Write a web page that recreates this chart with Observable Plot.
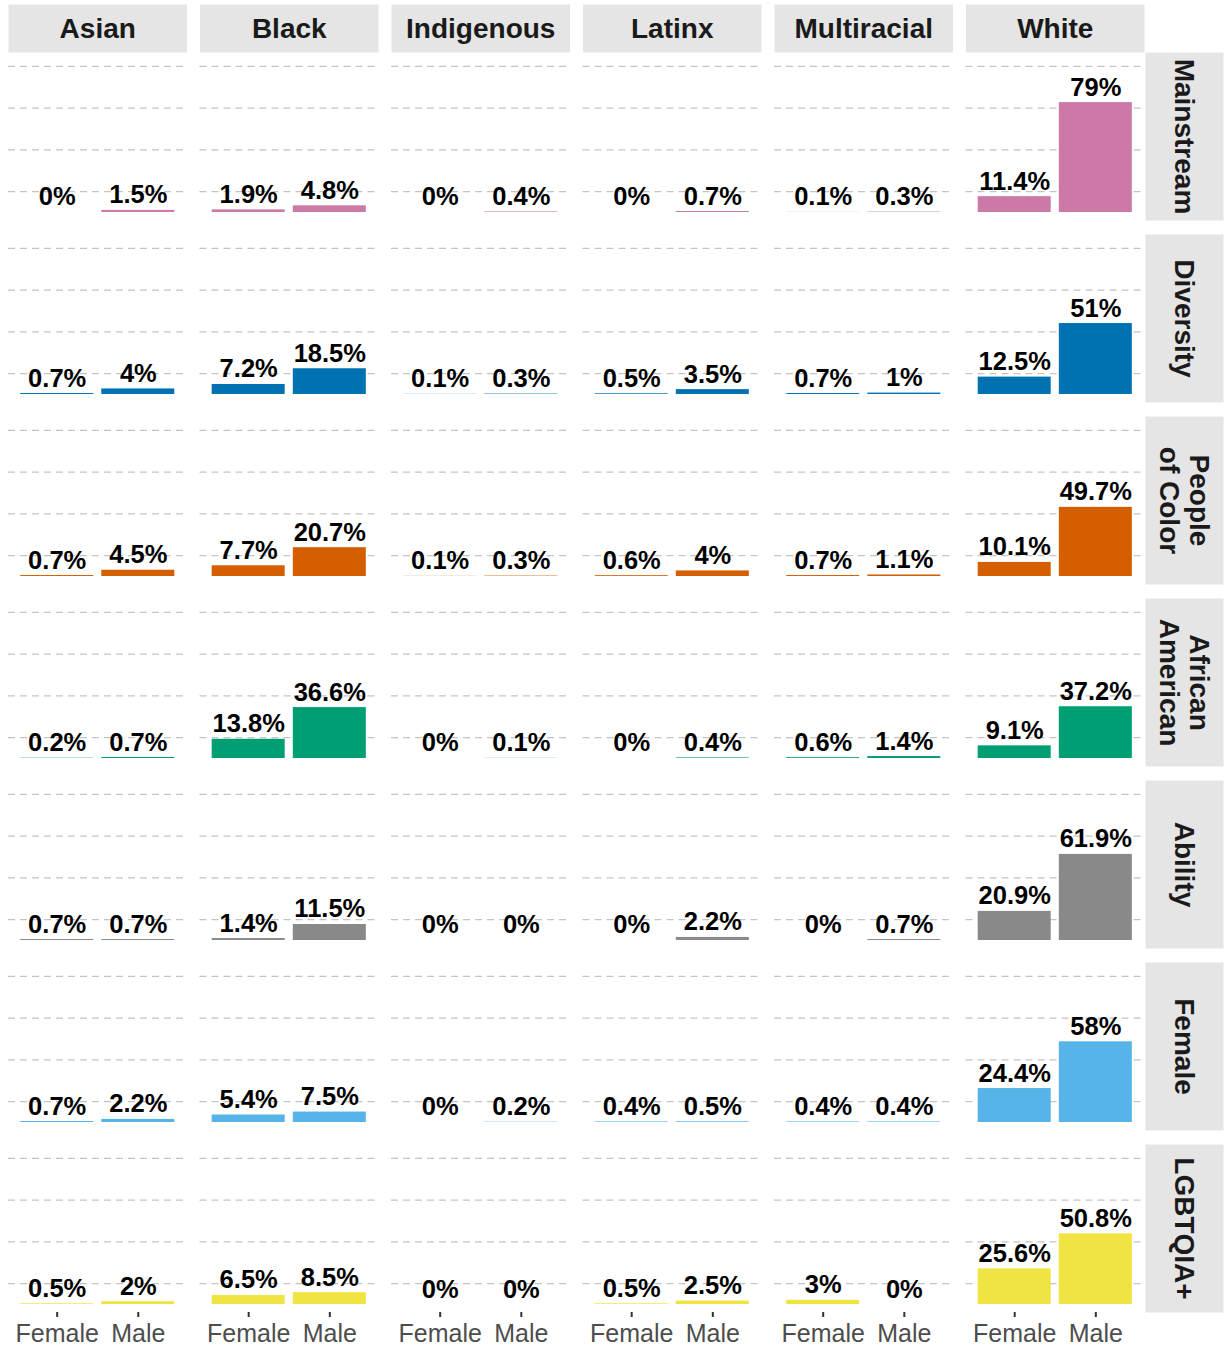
<!DOCTYPE html>
<html><head><meta charset="utf-8">
<script src="https://cdn.jsdelivr.net/npm/d3@7"></script>
<script src="https://cdn.jsdelivr.net/npm/@observablehq/plot@0.6"></script>
<style>body{margin:0;background:#fff;} #chart svg{display:block}</style>
</head><body><div id="chart"></div>
<script>
// ---- data ----
const races = ["Asian", "Black", "Indigenous", "Latinx", "Multiracial", "White"];
const categories = ["Mainstream", "Diversity", "People of Color", "African American", "Ability", "Female", "LGBTQIA+"];
const categoryLabels = ["Mainstream", "Diversity", "People\nof Color", "African\nAmerican", "Ability", "Female", "LGBTQIA+"];
const genders = ["Female", "Male"];
const categoryColors = ["#CC79A7", "#0072B2", "#D55E00", "#009E73", "#898989", "#56B4E9", "#F0E442"];
// each: per race (Asian..White) -> [Female %, Male %]
const mainstream      = [[0, 1.5], [1.9, 4.8], [0, 0.4], [0, 0.7], [0.1, 0.3], [11.4, 79]];
const diversity       = [[0.7, 4], [7.2, 18.5], [0.1, 0.3], [0.5, 3.5], [0.7, 1], [12.5, 51]];
const peopleOfColor   = [[0.7, 4.5], [7.7, 20.7], [0.1, 0.3], [0.6, 4], [0.7, 1.1], [10.1, 49.7]];
const africanAmerican = [[0.2, 0.7], [13.8, 36.6], [0, 0.1], [0, 0.4], [0.6, 1.4], [9.1, 37.2]];
const ability         = [[0.7, 0.7], [1.4, 11.5], [0, 0], [0, 2.2], [0, 0.7], [20.9, 61.9]];
const female          = [[0.7, 2.2], [5.4, 7.5], [0, 0.2], [0.4, 0.5], [0.4, 0.4], [24.4, 58]];
const lgbtqia         = [[0.5, 2], [6.5, 8.5], [0, 0], [0.5, 2.5], [3, 0], [25.6, 50.8]];
const seriesByCategory = [mainstream, diversity, peopleOfColor, africanAmerican, ability, female, lgbtqia];
const gridTicks = [15, 45, 75, 105];

const rows = [];
categories.forEach((cat, ci) => {
  races.forEach((race, ri) => {
    genders.forEach((g, gi) => {
      rows.push({category: cat, race, gender: g, value: seriesByCategory[ci][ri][gi]});
    });
  });
});

// ---- layout ----
const W = 1225, H = 1349;
const mt = 52, mb = 37, ml = 8, mr = 81;
const fxPad = 0.068, fyPad = 0.077;
const panelH = (H - mt - mb) / (categories.length - fyPad) * (1 - fyPad);
const panelW = (W - ml - mr) / (races.length - fxPad) * (1 - fxPad);
const stripH = 48, stripW = 78;
const font = "'Liberation Sans', Arial, Helvetica, sans-serif";

const chart = Plot.plot({
  width: W, height: H,
  marginTop: mt, marginBottom: mb, marginLeft: ml, marginRight: mr,
  style: {fontFamily: font, background: "#ffffff", color: "#1a1a1a", overflow: "visible"},
  fx: {domain: races, paddingInner: fxPad, paddingOuter: 0, round: false, axis: null, label: null},
  fy: {domain: categories, paddingInner: fyPad, paddingOuter: 0, round: false, axis: null, label: null},
  x: {domain: genders, type: "band", paddingInner: 0.1, paddingOuter: 0.15, round: false, axis: null, label: null},
  y: {domain: [-5.75, 115], axis: null, label: null},
  color: {domain: categories, range: categoryColors},
  marks: [
    Plot.frame({facetAnchor: "top", fill: "#e5e5e5", stroke: null, insetTop: -stripH, insetBottom: panelH}),
    Plot.frame({facetAnchor: "right", fill: "#e5e5e5", stroke: null, insetLeft: panelW + 1, insetRight: -(stripW + 1)}),
    Plot.gridY(gridTicks, {stroke: "#c4c4c4", strokeOpacity: 1, strokeWidth: 1.2, strokeDasharray: "7,5"}),
    Plot.barY(rows, {fx: "race", fy: "category", x: "gender", y: "value", fill: "category"}),
    Plot.text(rows, {
      fx: "race", fy: "category", x: "gender", y: "value",
      text: d => `${d.value}%`, lineAnchor: "bottom", dy: -7,
      fontSize: 25.5, fontWeight: "bold", fill: "#000000"
    }),
    Plot.text(races, {
      fx: d => d, text: d => d, frameAnchor: "top", lineAnchor: "middle", textAnchor: "middle",
      dy: -23, fontSize: 28, fontWeight: "bold", fill: "#1a1a1a", facetAnchor: "top"
    }),
    Plot.text(categories, {
      fy: d => d, text: (d, i) => categoryLabels[i], frameAnchor: "right", textAnchor: "middle", lineAnchor: "middle",
      dx: 1 + stripW / 2, rotate: 90, fontSize: 28, fontWeight: "bold", fill: "#1a1a1a",
      lineHeight: 1.05, facetAnchor: "right"
    }),
    Plot.axisX({
      tickSize: 5, tickPadding: 7, fontSize: 25, fill: "#4d4d4d", stroke: "#333333",
      strokeWidth: 2, strokeOpacity: 1, label: null, facetAnchor: "bottom"
    })
  ]
});
document.getElementById("chart").appendChild(chart);
</script>
</body></html>
